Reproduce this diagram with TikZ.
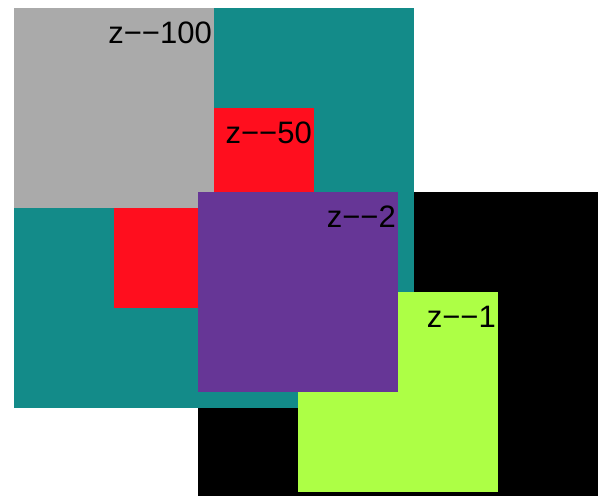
\documentclass[tikz,border=0pt]{standalone}
\usepackage{fontspec}
\setmainfont{Liberation Sans}
\usepackage{tikz}
\usetikzlibrary{positioning}
\definecolor{layerteal}{RGB}{19,139,137}
\definecolor{layergray}{RGB}{170,170,170}
\definecolor{layerred}{RGB}{255,14,30}
\definecolor{layerpurple}{RGB}{102,54,150}
\definecolor{layergreen}{RGB}{173,255,69}

\begin{document}
\begin{tikzpicture}[
  x=1pt, y=-1pt,
  sq/.style={inner sep=0pt, outer sep=0pt, anchor=north west, minimum size=200pt},
  bigsq/.style={sq, minimum size=400pt},
  tag/.style={inner sep=0pt, anchor=base east, font=\fontsize{31}{37}\selectfont}
]
  \useasboundingbox (0,0) rectangle (598,496);
  % bottom layers first
  \begin{scope}
    \clip (0,0) rectangle (598,496);
    \node[bigsq, fill=black] (base) at (198,192) {};
  \end{scope}
  \node[bigsq, fill=layerteal] (outer) at (14,8) {};
  \node[sq, fill=layerred] (zfifty) at (114,108) {};
  \node[sq, fill=layergray] (zhundred) at (14,8) {};
  \node[sq, fill=layergreen] (zone) at (298,292) {};
  \node[sq, fill=layerpurple] (ztwo) at (198,192) {};
  % labels, right aligned at each box top
  \node[tag] (tghundred) at ([shift={(-2pt,-35pt)}]zhundred.north east) {z−−100};
  \node[tag] (tgfifty) at ([shift={(-2pt,-35pt)}]zfifty.north east) {z−−50};
  \node[tag] (tgtwo) at ([shift={(-2pt,-35pt)}]ztwo.north east) {z−−2};
  \node[tag] (tgone) at ([shift={(-2pt,-35pt)}]zone.north east) {z−−1};
\end{tikzpicture}
\end{document}
